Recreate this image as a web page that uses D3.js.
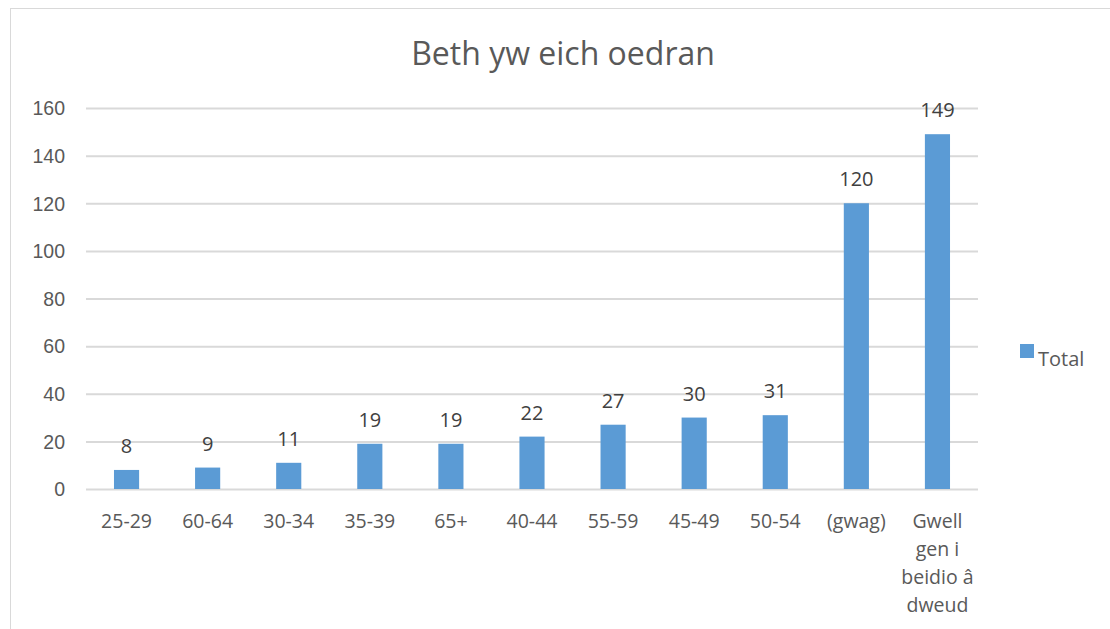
<!DOCTYPE html>
<html lang="en">
<head>
<meta charset="UTF-8">
<title>Beth yw eich oedran</title>
<script src="https://d3js.org/d3.v7.min.js"></script>
<style>
body { margin: 0; background: #fff; }
svg { font-family: "Open Sans", sans-serif; }
.grid line { stroke: #d9d9d9; stroke-width: 2; }
.grid path { display: none; }
.axis text { fill: #595959; font-size: 19.5px; }
.axis path, .axis line { display: none; }
</style>
</head>
<body>
<script>
// data
var categories = ['25-29', '60-64', '30-34', '35-39', '65+', '40-44', '55-59', '45-49', '50-54', '(gwag)', 'Gwell gen i beidio â dweud'];
var totals = [8, 9, 11, 19, 19, 22, 27, 30, 31, 120, 149];
var yTicks = [0, 20, 40, 60, 80, 100, 120, 140, 160];

var width = 1110, height = 629;
var plot = {left: 86, right: 978, top: 108, bottom: 489};

var svg = d3.select('body').append('svg')
    .attr('width', width)
    .attr('height', height);

// chart border
svg.append('rect')
    .attr('x', 10.5).attr('y', 8.5)
    .attr('width', width).attr('height', height)
    .attr('fill', 'none')
    .attr('stroke', '#d9d9d9');

var x = d3.scaleBand()
    .domain(categories)
    .range([plot.left, plot.right])
    .paddingInner(0.69)
    .paddingOuter(0.345);

var y = d3.scaleLinear()
    .domain([0, 160])
    .range([plot.bottom, plot.top]);

// gridlines
svg.append('g')
    .attr('class', 'grid')
    .attr('transform', 'translate(' + plot.left + ',0)')
    .call(d3.axisLeft(y).tickValues(yTicks).tickSize(-(plot.right - plot.left)).tickFormat(''));

// y axis labels
svg.append('g')
    .attr('class', 'axis')
    .attr('transform', 'translate(' + (plot.left - 21) + ',0)')
    .call(d3.axisLeft(y).tickValues(yTicks).tickSize(0).tickPadding(0))
    .selectAll('text').attr('dy', '0.35em');

// bars
svg.selectAll('.bar')
    .data(totals)
    .enter()
    .append('rect')
    .attr('class', 'bar')
    .attr('x', function(d, i) { return x(categories[i]); })
    .attr('y', function(d) { return y(d); })
    .attr('width', x.bandwidth())
    .attr('height', function(d) { return y(0) - y(d); })
    .attr('fill', '#5b9bd5');

// value labels
svg.selectAll('.val')
    .data(totals)
    .enter()
    .append('text')
    .attr('class', 'val')
    .attr('x', function(d, i) { return x(categories[i]) + x.bandwidth() / 2; })
    .attr('y', function(d) { return y(d) - 17; })
    .attr('text-anchor', 'middle')
    .attr('fill', '#404040')
    .attr('font-size', 20)
    .text(function(d) { return d; });

// x axis labels (wrapped)
var wrapped = {'Gwell gen i beidio â dweud': ['Gwell', 'gen i', 'beidio â', 'dweud']};
var xLab = svg.append('g').attr('class', 'axis');
categories.forEach(function(c) {
    var lines = wrapped[c] || [c];
    var t = xLab.append('text')
        .attr('x', x(c) + x.bandwidth() / 2)
        .attr('y', 528)
        .attr('text-anchor', 'middle');
    lines.forEach(function(l, j) {
        t.append('tspan')
            .attr('x', x(c) + x.bandwidth() / 2)
            .attr('dy', j === 0 ? 0 : 28)
            .text(l);
    });
});

// title
svg.append('text')
    .attr('x', 563)
    .attr('y', 65)
    .attr('text-anchor', 'middle')
    .attr('fill', '#595959')
    .attr('font-size', 32)
    .text('Beth yw eich oedran');

// legend
svg.append('rect')
    .attr('x', 1020).attr('y', 344)
    .attr('width', 14).attr('height', 14)
    .attr('fill', '#5b9bd5');
svg.append('text')
    .attr('x', 1038).attr('y', 366)
    .attr('fill', '#595959')
    .attr('font-size', 20)
    .text('Total');
</script>
</body>
</html>
